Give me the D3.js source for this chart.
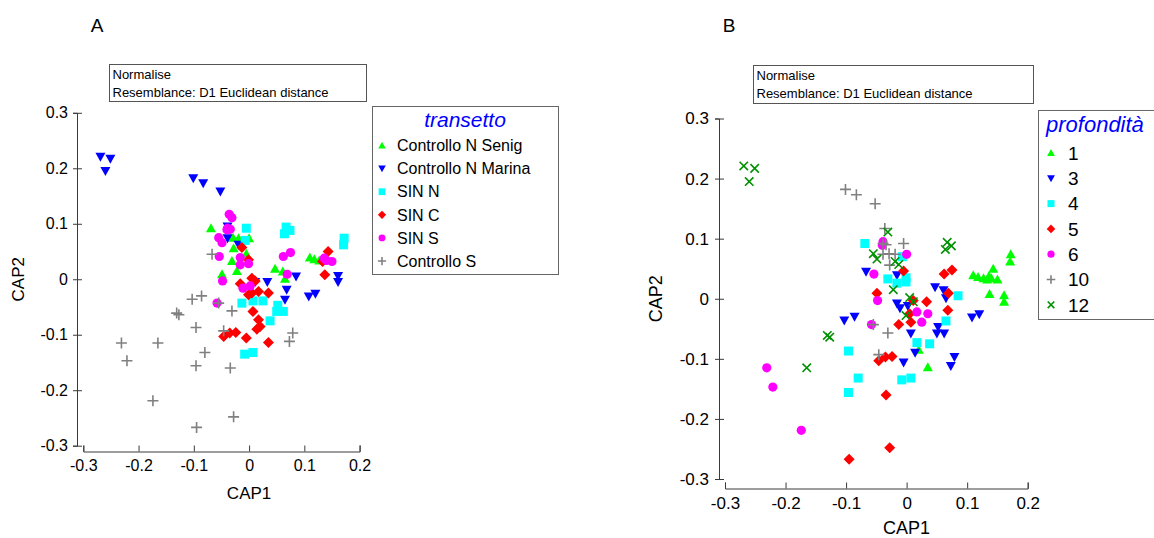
<!DOCTYPE html>
<html><head><meta charset="utf-8">
<script src="https://cdn.jsdelivr.net/npm/d3@7/dist/d3.min.js"></script>
<style>
html,body{margin:0;padding:0;background:#fff;}
svg text{font-family:"Liberation Sans",Arial,sans-serif;}
</style></head>
<body>
<svg id="chart" width="1154" height="538"></svg>
<script>
// ---------------- DATA ----------------
const transettoCats = ["Controllo N Senig","Controllo N Marina","SIN N","SIN C","SIN S","Controllo S"];
const depthCats = [1,3,4,5,6,10,12];
const tickValues = [-0.3,-0.2,-0.1,0,0.1,0.2,0.3];
const xTickValues = [-0.3,-0.2,-0.1,0,0.1,0.2];

const cap1 = [
 -0.069,-0.029,-0.019,0.000,-0.028,-0.005,-0.031,-0.022,-0.049,0.047,0.061,0.065,0.110,0.118,0.127,
 -0.269,-0.251,-0.260,-0.101,-0.083,-0.052,-0.039,-0.039,-0.019,0.011,0.033,0.085,0.068,0.065,0.108,0.120,0.161,0.161,
 -0.005,-0.007,0.067,0.074,0.064,0.172,0.171,-0.013,0.007,0.025,0.052,0.050,0.062,0.038,-0.008,0.007,
 -0.013,-0.001,0.143,0.137,0.133,0.005,-0.016,0.011,-0.001,0.005,0.017,0.035,0.007,0.017,0.020,0.014,-0.046,-0.035,-0.024,-0.005,0.035,
 -0.036,-0.031,-0.039,-0.034,-0.040,-0.055,-0.049,-0.054,-0.016,-0.016,-0.001,-0.048,-0.011,0.002,-0.058,0.062,0.075,0.069,0.140,0.150,0.136,
 -0.067,-0.103,-0.086,-0.131,-0.127,-0.031,-0.055,-0.096,-0.046,-0.231,-0.165,-0.221,-0.080,-0.096,-0.034,-0.174,-0.028,-0.095,0.079,0.073
];
const cap2 = [
 0.092,0.075,0.074,0.074,0.056,0.046,0.033,0.015,0.009,0.019,0.014,0.001,0.039,0.036,0.034,
 0.221,0.217,0.195,0.182,0.173,0.158,0.095,0.074,0.062,-0.005,-0.005,0.005,-0.019,-0.037,-0.031,-0.026,0.006,-0.005,
 0.092,0.070,0.094,0.088,0.082,0.074,0.062,-0.043,-0.039,-0.039,-0.047,-0.058,-0.058,-0.075,-0.135,-0.132,
 0.057,0.035,0.050,0.008,0.032,0.002,-0.008,-0.003,-0.028,-0.025,-0.022,-0.025,-0.058,-0.073,-0.085,-0.090,-0.103,-0.097,-0.096,-0.106,-0.114,
 0.117,0.111,0.092,0.090,0.089,0.075,0.066,0.041,0.039,0.026,0.028,-0.003,-0.016,-0.012,-0.043,0.041,0.048,0.009,0.034,0.032,0.038,
 0.045,-0.036,-0.030,-0.061,-0.064,-0.057,-0.043,-0.087,-0.093,-0.115,-0.115,-0.147,-0.132,-0.156,-0.160,-0.219,-0.248,-0.267,-0.097,-0.112
];
const transetto = [
 0,0,0,0,0,0,0,0,0,0,0,0,0,0,0,
 1,1,1,1,1,1,1,1,1,1,1,1,1,1,1,1,1,1,
 2,2,2,2,2,2,2,2,2,2,2,2,2,2,2,2,
 3,3,3,3,3,3,3,3,3,3,3,3,3,3,3,3,3,3,3,3,3,
 4,4,4,4,4,4,4,4,4,4,4,4,4,4,4,4,4,4,4,4,4,
 5,5,5,5,5,5,5,5,5,5,5,5,5,5,5,5,5,5,5,5
];
const profondita = [
 4,10,10,6,10,5,4,12,5,3,3,3,1,1,1,
 12,12,12,10,10,10,6,10,12,12,5,4,5,4,3,3,1,1,
 10,4,12,12,12,1,1,5,5,6,3,3,3,4,4,4,
 12,4,1,1,1,12,3,5,12,5,6,6,3,4,1,3,5,5,5,3,1,
 10,12,10,10,6,12,12,6,3,4,4,6,3,3,6,5,5,5,1,1,1,
 3,3,3,12,12,10,10,4,10,6,12,6,4,4,5,6,5,5,3,3
];

// ---------------- STYLE ----------------
const markerA = ["triUp","triDown","square","diamond","circle","plus"];
const colorA  = ["#00ff00","#0000ff","#00ffff","#ff0000","#ff00ff","#808080"];
const markerB = {1:"triUp",3:"triDown",4:"square",5:"diamond",6:"circle",10:"plus",12:"cross"};
const colorB  = {1:"#00ff00",3:"#0000ff",4:"#00ffff",5:"#ff0000",6:"#ff00ff",10:"#808080",12:"#009000"};

function shapePath(t,s){
  const k=s;
  switch(t){
    case "triUp":   return `M0,${-5*k}L${5*k},${4*k}L${-5*k},${4*k}Z`;
    case "triDown": return `M0,${5*k}L${5*k},${-4*k}L${-5*k},${-4*k}Z`;
    case "square":  return `M${-4.5*k},${-4.5*k}h${9*k}v${9*k}h${-9*k}Z`;
    case "diamond": return `M0,${-5.5*k}L${5.5*k},0L0,${5.5*k}L${-5.5*k},0Z`;
    case "circle":  return `M${4.6*k},0A${4.6*k},${4.6*k} 0 1,1 ${-4.6*k},0A${4.6*k},${4.6*k} 0 1,1 ${4.6*k},0Z`;
    case "plus":    return `M${-5.5*k},0H${5.5*k}M0,${-5.5*k}V${5.5*k}`;
    case "cross":   return `M${-4.2*k},${-4.2*k}L${4.2*k},${4.2*k}M${-4.2*k},${4.2*k}L${4.2*k},${-4.2*k}`;
  }
}
function drawMarker(g,t,c,x,y,s){
  const stroked = (t==="plus"||t==="cross");
  g.append("path").attr("d",shapePath(t,s)).attr("transform",`translate(${x},${y})`)
   .attr("fill",stroked?"none":c).attr("stroke",stroked?c:"none").attr("stroke-width",stroked?1.6:0);
}

const svg = d3.select("#chart");
const fmt = d => d===0 ? "0" : d.toFixed(1);
const axisColor = "#3a3a3a";

function panel(opt){
  const g = svg.append("g");
  const x = d3.scaleLinear().domain([-0.3,0.2]).range(opt.xr);
  const y = d3.scaleLinear().domain([-0.3,0.3]).range(opt.yr);
  const ya = g.append("g").attr("transform",`translate(${opt.yAxisX},0)`)
    .call(d3.axisLeft(y).tickValues(tickValues).tickFormat(fmt).tickSizeOuter(0).tickSize(4));
  ya.select(".domain").attr("stroke",axisColor);
  ya.selectAll(".tick line").attr("x1",-4).attr("x2",5).attr("stroke",axisColor);
  ya.selectAll(".tick text").attr("x",opt.yLabX).attr("font-size",opt.fs).attr("fill","#000")
    .attr("font-family","Liberation Sans, Arial, sans-serif");
  const xa = g.append("g").attr("transform",`translate(0,${opt.xAxisY})`)
    .call(d3.axisBottom(x).tickValues(xTickValues).tickFormat(fmt).tickSizeOuter(0).tickSize(-6).tickPadding(opt.xPad));
  xa.select(".domain").attr("stroke",axisColor);
  xa.selectAll(".tick line").attr("stroke",axisColor);
  xa.selectAll(".tick text").attr("font-size",opt.fs).attr("fill","#000")
    .attr("font-family","Liberation Sans, Arial, sans-serif");
  g.append("text").attr("x",x(0)).attr("y",opt.cap1Y).attr("text-anchor","middle")
    .attr("font-size",opt.tfs).text("CAP1");
  g.append("text").attr("transform",`translate(${opt.cap2X},${y(0)}) rotate(-90)`).attr("text-anchor","middle")
    .attr("font-size",opt.tfs).text("CAP2");
  return {g,x,y};
}

// ---------- Panel A ----------
const A = panel({xr:[83.3,359.6], yr:[445.7,112.8], yAxisX:77, xAxisY:451.5, yLabX:-9, xPad:8,
                 fs:16, tfs:17, cap1Y:499, cap2X:24});
[0,1,2,3,4,5].forEach(k=>{
  cap1.forEach((v,i)=>{ if(transetto[i]===k) drawMarker(A.g,markerA[k],colorA[k],A.x(v),A.y(cap2[i]),1); });
});

// ---------- Panel B ----------
const B = panel({xr:[725,1027.7], yr:[479,118.5], yAxisX:719, xAxisY:488.5, yLabX:-10, xPad:8,
                 fs:17, tfs:18, cap1Y:534, cap2X:662});
depthCats.forEach(d=>{
  cap1.forEach((v,i)=>{ if(profondita[i]===d) drawMarker(B.g,markerB[d],colorB[d],B.x(v),B.y(cap2[i]),1); });
});

// ---------- Panel letters ----------
svg.append("text").attr("x",97).attr("y",32).attr("text-anchor","middle").attr("font-size",19)
  .attr("font-family","Open Sans, Liberation Sans, sans-serif").text("A");
svg.append("text").attr("x",729).attr("y",32).attr("text-anchor","middle").attr("font-size",19)
  .attr("font-family","Open Sans, Liberation Sans, sans-serif").text("B");

// ---------- Note boxes ----------
function note(x0,y0,w,h){
  svg.append("rect").attr("x",x0).attr("y",y0).attr("width",w).attr("height",h)
    .attr("fill","#fff").attr("stroke","#555").attr("stroke-width",1);
  svg.append("text").attr("x",x0+3).attr("y",y0+14).attr("font-size",13).text("Normalise");
  svg.append("text").attr("x",x0+3).attr("y",y0+32).attr("font-size",13).text("Resemblance: D1 Euclidean distance");
}
note(109.5,64.5,257,37);
note(753.5,65.5,280,38);

// ---------- Legends ----------
function legend(x0,y0,w,h,title,titleX,titleAnchor,titleY,titleFs,items,symX,txtX,iy0,step,fs,sc){
  svg.append("rect").attr("x",x0).attr("y",y0).attr("width",w).attr("height",h)
    .attr("fill","#fff").attr("stroke","#666").attr("stroke-width",1);
  svg.append("text").attr("x",titleX).attr("y",titleY).attr("text-anchor",titleAnchor)
    .attr("font-size",titleFs).attr("font-style","italic").attr("fill","#0000ff").text(title);
  items.forEach((it,i)=>{
    const yy = iy0+i*step;
    drawMarker(svg,it.m,it.c,symX,yy,sc);
    svg.append("text").attr("x",txtX).attr("y",yy).attr("dy","0.36em").attr("font-size",fs).text(it.label);
  });
}
legend(372.5,106.5,186,168,"transetto",465,"middle",127,21,
  transettoCats.map((t,i)=>({label:t,m:markerA[i],c:colorA[i]})),382,397,145.5,23.1,16,0.75);
legend(1038.5,110.5,130,209,"profondità",1046,"start",132,22,
  depthCats.map(d=>({label:String(d),m:markerB[d],c:colorB[d]})),1051,1068,153,25.3,19,0.78);
</script>
</body></html>
